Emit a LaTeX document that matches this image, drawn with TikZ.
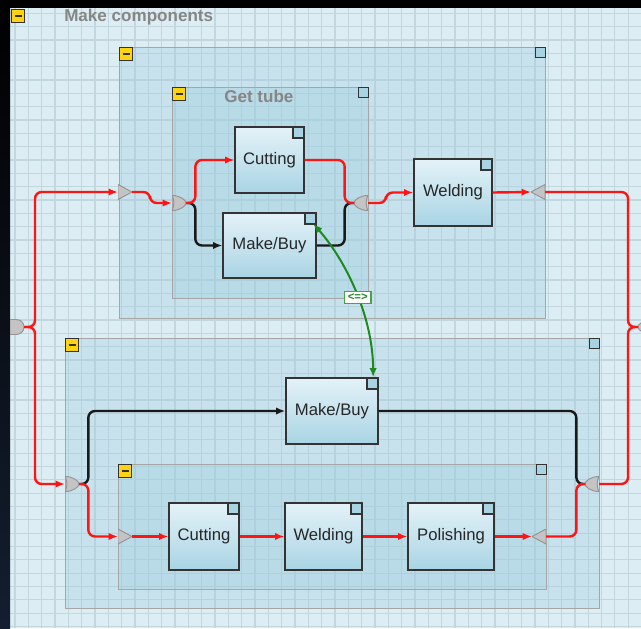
\documentclass[tikz,border=0pt]{standalone}
\usepackage{fontspec}
\setmainfont{Liberation Sans}
\usetikzlibrary{arrows.meta, positioning}

\definecolor{gridbg}{HTML}{DCEEF4}
\definecolor{gridln}{HTML}{C3D7DE}
\definecolor{grpfill}{HTML}{9CCBDD}
\definecolor{taskTop}{HTML}{E4F2F8}
\definecolor{taskBot}{HTML}{A9D4E4}
\definecolor{cornblue}{HTML}{A8D3E3}
\definecolor{gatefill}{HTML}{C4C4C4}
\definecolor{flowred}{HTML}{FF1414}
\definecolor{linkgreen}{HTML}{1E8A1E}
\definecolor{minusyel}{HTML}{FFD30F}
\definecolor{slidedark}{HTML}{141E30}

\begin{document}
\begin{tikzpicture}[x=0.75pt, y=-0.75pt,
  >={Latex[length=7pt, width=5.5pt]},
  gridline/.style={draw=gridln, line width=0.9pt},
  grp/.style={draw=gray!70, line width=1.1pt, fill=grpfill, fill opacity=0.32, anchor=north west, inner sep=0pt},
  task/.style={draw=black!80, line width=0.9pt, top color=taskTop, bottom color=taskBot, inner sep=0pt,
    font=\fontsize{12.5}{14}\selectfont, text=black!85,
    path picture={\draw[fill=cornblue, draw=black!80, line width=0.9pt]
      ([xshift=-8.25pt, yshift=-8.25pt]path picture bounding box.north east) rectangle (path picture bounding box.north east);}},
  minus/.style={draw=black!80, line width=0.8pt, fill=minusyel, minimum size=9.75pt, inner sep=0pt, anchor=north west,
    path picture={\draw[line width=1.3pt] ([xshift=-2.6pt]path picture bounding box.center) -- ([xshift=2.6pt]path picture bounding box.center);}},
  corner/.style={draw=black!80, line width=0.8pt, fill=cornblue, minimum size=7.5pt, inner sep=0pt, anchor=north east},
  title/.style={font=\fontsize{12.8}{14}\selectfont\bfseries, text=gray!95, anchor=west, inner sep=0pt},
  gate/.style={minimum width=10.5pt, minimum height=11.25pt, inner sep=0pt, outer sep=0pt},
  gateshape/.style={fill=gatefill, draw=gray!85, line width=0.7pt},
  triR/.style={gate, path picture={\filldraw[gateshape] (path picture bounding box.north west) -- (path picture bounding box.east) -- (path picture bounding box.south west) -- cycle;}},
  triL/.style={gate, path picture={\filldraw[gateshape] (path picture bounding box.north east) -- (path picture bounding box.west) -- (path picture bounding box.south east) -- cycle;}},
  orR/.style={gate, path picture={\begin{scope}[shift={(path picture bounding box.center)}]
      \filldraw[gateshape] (-7,-7.5) .. controls (1,-7.5) and (7,-3) .. (7,0) .. controls (7,3) and (1,7.5) .. (-7,7.5) .. controls (-4.5,3) and (-4.5,-3) .. (-7,-7.5) -- cycle;
    \end{scope}}},
  orL/.style={gate, path picture={\begin{scope}[shift={(path picture bounding box.center)}]
      \filldraw[gateshape] (7,-7.5) .. controls (-1,-7.5) and (-7,-3) .. (-7,0) .. controls (-7,3) and (-1,7.5) .. (7,7.5) .. controls (4.5,3) and (4.5,-3) .. (7,-7.5) -- cycle;
    \end{scope}}},
  dgate/.style={gate, path picture={\begin{scope}[shift={(path picture bounding box.center)}]
      \filldraw[gateshape] (-7,-7.5) -- (-1,-7.5) .. controls (4,-7.5) and (7,-4) .. (7,0) .. controls (7,4) and (4,7.5) .. (-1,7.5) -- (-7,7.5) -- cycle;
    \end{scope}}},
  flow/.style={draw=flowred, line width=1.8pt, rounded corners=5pt},
  alt/.style={draw=black!90, line width=1.8pt, rounded corners=5pt},
  link/.style={draw=linkgreen, line width=1.5pt},
  linklbl/.style={draw=linkgreen!80, line width=1.2pt, fill=white, text=linkgreen, inner xsep=2.5pt, inner ysep=2pt,
    font=\fontsize{8.5}{9}\selectfont\bfseries}
]
\clip (0,0) rectangle (641,628);

% canvas and grid
\fill[gridbg] (0,0) rectangle (641,628);
\foreach \k in {0,...,48}
  \draw[gridline] ({1.7+\k*13.33},0) -- ({1.7+\k*13.33},628);
\foreach \k in {0,...,47}
  \draw[gridline] (0,{\k*13.33}) -- (641,{\k*13.33});
\fill[top color=black, bottom color=slidedark] (0,0) rectangle (10,628);
\fill[black] (0,0) rectangle (641,8);

% main process
\node[minus] (mnMain) at (11,9) {};
\node[title] (ttlMain) at (64,17) {Make components};

% groups
\node[grp, minimum width=319.5pt, minimum height=203.25pt] (grpTop) at (119,47) {};
\node[grp, minimum width=147pt, minimum height=158.25pt] (grpTube) at (172,87) {};
\node[grp, minimum width=400.5pt, minimum height=202.5pt] (grpBot) at (65,338) {};
\node[grp, minimum width=321pt, minimum height=93.75pt] (grpInn) at (118,464) {};

\node[minus] (mnTop) at (grpTop.north west) {};
\node[corner] (cnTop) at (grpTop.north east) {};
\node[minus] (mnTube) at (grpTube.north west) {};
\node[corner] (cnTube) at (grpTube.north east) {};
\node[title] (ttlTube) at (224,96) {Get tube};
\node[minus] (mnBot) at (grpBot.north west) {};
\node[corner] (cnBot) at (grpBot.north east) {};
\node[minus] (mnInn) at (grpInn.north west) {};
\node[corner] (cnInn) at (grpInn.north east) {};

% tasks
\node[task, minimum width=51.75pt, minimum height=49.5pt] (cutA) at (269.5,160) {Cutting};
\node[task, minimum width=69.75pt, minimum height=48.75pt] (mbA) at (269.5,245.5) {Make/Buy};
\node[task, minimum width=58.5pt, minimum height=50.25pt] (weldA) at (453,192.5) {Welding};
\node[task, minimum width=69pt, minimum height=49.5pt] (mbB) at (332,411) {Make/Buy};
\node[task, minimum width=52.5pt, minimum height=50.25pt] (cutB) at (204,536.5) {Cutting};
\node[task, minimum width=57.75pt, minimum height=50.25pt] (weldB) at (323.5,536.5) {Welding};
\node[task, minimum width=64.5pt, minimum height=50.25pt] (polB) at (451,536.5) {Polishing};

% gates
\node[dgate] (gSplit) at (17,327) {};
\node[triR] (tTopIn) at (125,192) {};
\node[orR] (gTubeIn) at (179,203) {};
\node[orL] (gTubeOut) at (361,203) {};
\node[triL] (tTopOut) at (538,192) {};
\node[orL] (gMerge) at (645,327) {};
\node[orR] (gBotIn) at (72,484) {};
\node[orL] (gBotOut) at (592,484) {};
\node[triR] (tInnIn) at (125,536.5) {};
\node[triL] (tInnOut) at (539,536.5) {};

% junctions
\coordinate (jL) at (35,327);
\coordinate (jR) at (628,327);
\coordinate (jTubeL) at ([xshift=7pt]gTubeIn.east);
\coordinate (jTubeR) at ([xshift=-7pt]gTubeOut.west);
\coordinate (jBotL) at ([xshift=7pt]gBotIn.east);
\coordinate (jBotR) at ([xshift=-6.5pt]gBotOut.west);

% alternative branches
\draw[alt, ->] (gTubeIn.east) -- (jTubeL) |- (mbA.west);
\draw[alt] (mbA.east) -| (jTubeR) -- (gTubeOut.west);
\draw[alt, ->] (gBotIn.east) -- (jBotL) |- (mbB.west);
\draw[alt] (mbB.east) -| (jBotR) -- (gBotOut.west);

% main flow
\draw[flow, ->] (gSplit.east) -- (jL) |- (tTopIn.west);
\draw[flow, ->] (gSplit.east) -- (jL) |- (gBotIn.west);
\draw[flow, ->] (tTopIn.east) -- ++(18,0) |- (gTubeIn.west);
\draw[flow, ->] (gTubeIn.east) -- (jTubeL) |- (cutA.west);
\draw[flow] (cutA.east) -| (jTubeR) -- (gTubeOut.west);
\draw[flow, ->] (gTubeOut.east) -- ++(18,0) |- (weldA.west);
\draw[flow, ->] (weldA.east) -- (tTopOut.west);
\draw[flow] (tTopOut.east) -| (jR) -- (gMerge.west);
\draw[flow, ->] (gBotIn.east) -- (jBotL) |- (tInnIn.west);
\draw[flow, ->] (tInnIn.east) -- (cutB.west);
\draw[flow, ->] (cutB.east) -- (weldB.west);
\draw[flow, ->] (weldB.east) -- (polB.west);
\draw[flow, ->] (polB.east) -- (tInnOut.west);
\draw[flow] (tInnOut.east) -| (jBotR) -- (gBotOut.west);
\draw[flow] (gBotOut.east) -| (jR) -- (gMerge.west);

% link between the two Make/Buy tasks
\draw[link, <->] ([xshift=-2.5pt, yshift=-8.5pt]mbA.north east)
  .. controls (347,262) and (373,318) .. ([xshift=-4.1pt]mbB.north east)
  node[linklbl, pos=0.53] (lnk) {<=>};
\end{tikzpicture}
\end{document}
